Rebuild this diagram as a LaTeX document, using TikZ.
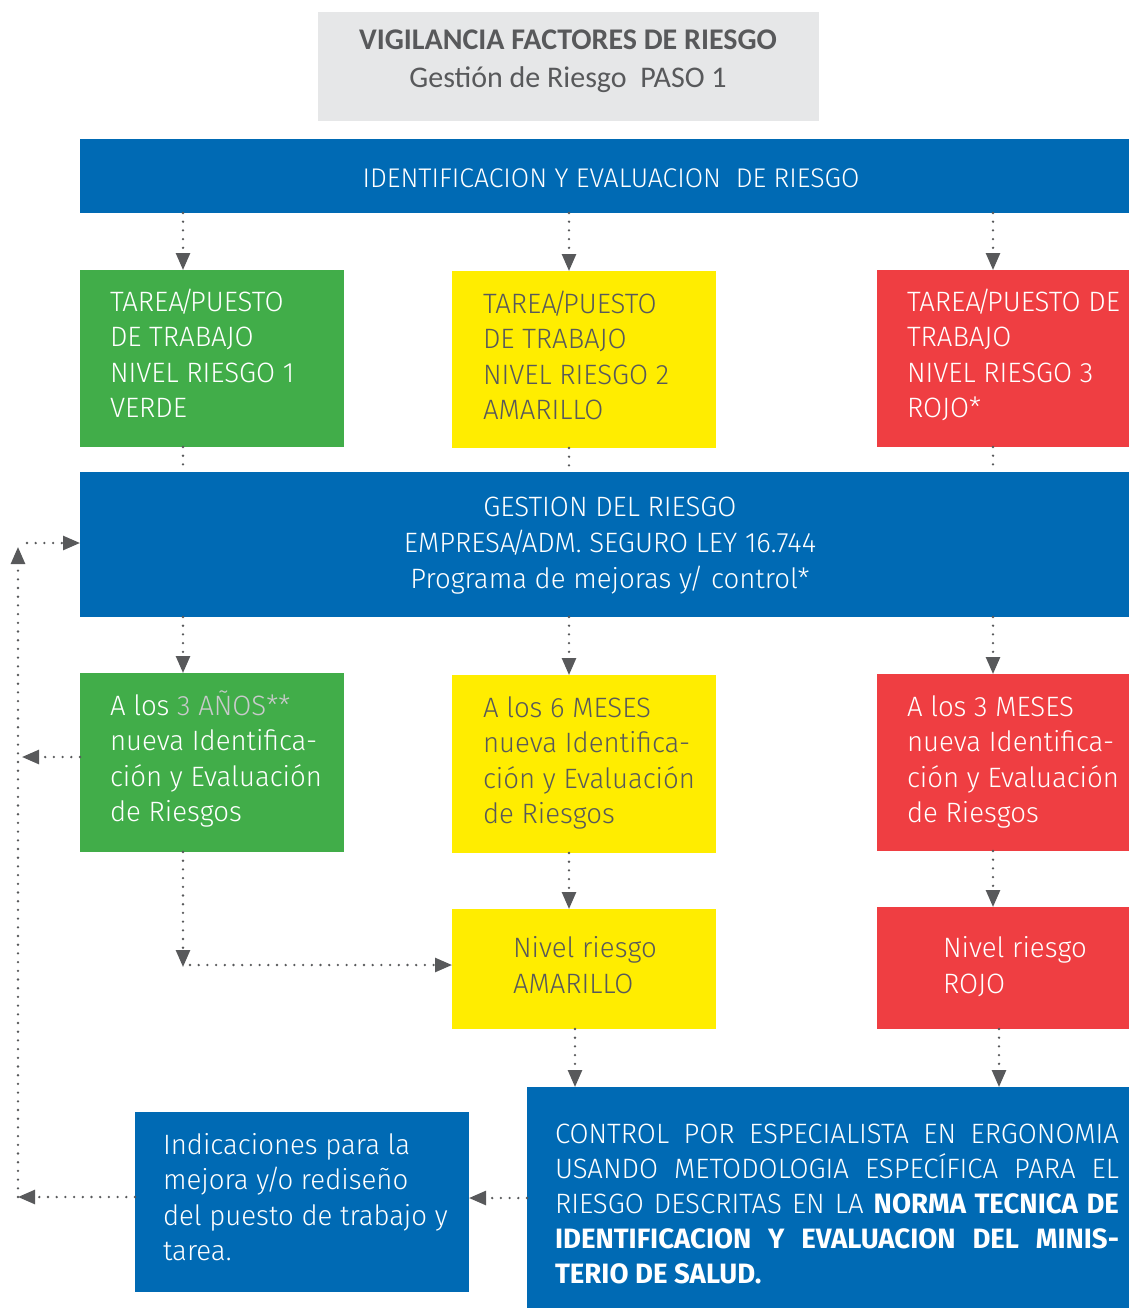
\documentclass[tikz,border=0pt]{standalone}
\usepackage{fontspec}
\setmainfont{Fira Sans}[UprightFont={* Light}, BoldFont={* Bold}, UprightFeatures={FakeStretch=0.985}, BoldFeatures={FakeStretch=0.985}]
\newfontfamily\titlefont{Carlito}
\usetikzlibrary{arrows.meta}
\definecolor{blueC}{HTML}{006AB4}
\definecolor{greenC}{HTML}{41AD49}
\definecolor{yellowC}{HTML}{FFED00}
\definecolor{redC}{HTML}{EF3E42}
\definecolor{grayT}{HTML}{58595B}
\definecolor{titleC}{HTML}{E6E7E8}
\definecolor{lightT}{HTML}{C9CACB}
\newcommand{\ml}[2][l]{\begin{tabular}[t]{@{}#1@{}}#2\end{tabular}}
\newcommand{\jl}[1]{\makebox[564pt][s]{#1}}
\newcommand{\sls}{\kern-4pt/\kern-4pt}
\begin{document}
\begin{tikzpicture}[x=1pt,y=-1pt,
  box/.style={rectangle, draw=none, inner sep=0pt, outer sep=0pt, anchor=north west},
  txt/.style={inner sep=0pt, outer sep=0pt, anchor=base west, text=white, font=\fontsize{28}{35.5}\selectfont},
  ctxt/.style={txt, anchor=base},
  arr/.style={draw=grayT, line width=2.6pt, line cap=round, dash pattern=on 0pt off 8.7pt, -{Triangle[width=14pt,length=17pt]}},
  dots/.style={draw=grayT, line width=2.6pt, line cap=round, dash pattern=on 0pt off 8.7pt}]
\useasboundingbox (0,0) rectangle (1129,1308);

% boxes
\node[box, fill=titleC, minimum width=501pt, minimum height=109pt] (title) at (318,12) {};
\node[box, fill=blueC, minimum width=1049pt, minimum height=74pt] (bar1) at (80,139) {};
\node[box, fill=greenC, minimum width=264pt, minimum height=177pt] (g1) at (80,270) {};
\node[box, fill=yellowC, minimum width=264pt, minimum height=177pt] (y1) at (452,271) {};
\node[box, fill=redC, minimum width=252pt, minimum height=177pt] (r1) at (877,270) {};
\node[box, fill=blueC, minimum width=1049pt, minimum height=145pt] (bar2) at (80,472) {};
\node[box, fill=greenC, minimum width=264pt, minimum height=179pt] (g2) at (80,673) {};
\node[box, fill=yellowC, minimum width=264pt, minimum height=178pt] (y2) at (452,675) {};
\node[box, fill=redC, minimum width=252pt, minimum height=177pt] (r2) at (877,674) {};
\node[box, fill=yellowC, minimum width=264pt, minimum height=120pt] (y3) at (452,909) {};
\node[box, fill=redC, minimum width=252pt, minimum height=122pt] (r3) at (877,907) {};
\node[box, fill=blueC, minimum width=602pt, minimum height=221pt] (big) at (527,1087) {};
\node[box, fill=blueC, minimum width=334pt, minimum height=180pt] (small) at (135,1112) {};

% texts
\node[ctxt, text=grayT, font=\titlefont\fontsize{30}{38}\selectfont] (titletxt) at (568,50)
  {\ml[c]{\textbf{VIGILANCIA FACTORES DE RIESGO}\\Gestión de Riesgo\ \ PASO 1}};
\node[ctxt, font=\fontsize{27}{35}\selectfont] (bar1txt) at (611,187) {IDENTIFICACION Y EVALUACION\ \ DE RIESGO};
\node[txt] (g1txt) at (110,311) {\ml{TAREA\sls PUESTO\\DE TRABAJO\\NIVEL RIESGO 1\\VERDE}};
\node[txt, text=grayT] (y1txt) at (483,313) {\ml{TAREA\sls PUESTO\\DE TRABAJO\\NIVEL RIESGO 2\\AMARILLO}};
\node[txt] (r1txt) at (907,311) {\ml{TAREA\sls PUESTO DE\\TRABAJO\\NIVEL RIESGO 3\\ROJO*}};
\node[ctxt, font=\fontsize{28}{36}\selectfont] (bar2txt) at (610,516)
  {\ml[c]{GESTION DEL RIESGO\\EMPRESA\sls ADM. SEGURO LEY 16.744\\Programa de mejoras y\kern-3pt/ control*}};
\node[txt] (g2txt) at (110,715) {\ml{A los \textcolor{lightT}{3 AÑOS**}\\nueva Identifica-\\ción y Evaluación\\de Riesgos}};
\node[txt, text=grayT] (y2txt) at (483,717) {\ml{A los 6 MESES\\nueva Identifica-\\ción y Evaluación\\de Riesgos}};
\node[txt] (r2txt) at (907,716) {\ml{A los 3 MESES\\nueva Identifica-\\ción y Evaluación\\de Riesgos}};
\node[txt, text=grayT, font=\fontsize{28}{36}\selectfont] (y3txt) at (513,957) {\ml{Nivel riesgo\\AMARILLO}};
\node[txt, font=\fontsize{28}{36}\selectfont] (r3txt) at (943,957) {\ml{Nivel riesgo\\ROJO}};
\node[txt, font=\fontsize{28}{35}\selectfont] (bigtxt) at (555,1143)
  {\ml{\jl{CONTROL POR ESPECIALISTA EN ERGONOMIA}\\
       \jl{USANDO METODOLOGIA ESPECÍFICA PARA EL}\\
       \jl{RIESGO DESCRITAS EN LA \textbf{NORMA TECNICA DE}}\\
       \jl{\textbf{IDENTIFICACION Y EVALUACION DEL MINIS-}}\\
       \textbf{TERIO DE SALUD.}}};
\node[txt, font=\fontsize{28}{35.5}\selectfont] (smalltxt) at (163,1154)
  {\ml{Indicaciones para la\\mejora y\kern-3pt/\kern-3pt o rediseño\\del puesto de trabajo y\\tarea.}};

% column coordinates
\coordinate (cA) at (183,0);
\coordinate (cB) at (569,0);
\coordinate (cC) at (993,0);
\coordinate (cB2) at (575,0);
\coordinate (cC2) at (999,0);
\coordinate (lb) at (18,1197);
\coordinate (lt) at (18,547);
\coordinate (lh) at (27,543);
\coordinate (lm) at (22,757);
\coordinate (gc) at (183,967);
\coordinate (gh) at (190,965);
\coordinate (bm) at (0,1198);

% connectors
\draw[arr] (bar1.south -| cA) -- (g1.north -| cA);
\draw[arr] (bar1.south -| cB) -- (y1.north -| cB);
\draw[arr] (bar1.south -| cC) -- (r1.north -| cC);
\draw[dots] (g1.south -| cA) -- (bar2.north -| cA);
\draw[dots] (y1.south -| cB) -- (bar2.north -| cB);
\draw[dots] (r1.south -| cC) -- (bar2.north -| cC);
\draw[arr] (bar2.south -| cA) -- (g2.north -| cA);
\draw[arr] (bar2.south -| cB) -- (y2.north -| cB);
\draw[arr] (bar2.south -| cC) -- (r2.north -| cC);
\draw[arr] (y2.south -| cB) -- (y3.north -| cB);
\draw[arr] (r2.south -| cC) -- (r3.north -| cC);
\draw[arr] (y3.south -| cB2) -- (big.north -| cB2);
\draw[arr] (r3.south -| cC2) -- (big.north -| cC2);
\draw[arr] (g2.south -| gc) -- (gc);
\draw[arr] (gh) -- (gh -| y3.west);
\draw[arr] (g2.west |- lm) -- (lm);
\draw[arr] (big.west |- bm) -- (small.east |- bm);
\draw[arr] (small.west |- lb) -- (lb);
\draw[arr] (lb) -- (lt);
\draw[arr] (lh) -- (lh -| bar2.west);
\end{tikzpicture}
\end{document}
